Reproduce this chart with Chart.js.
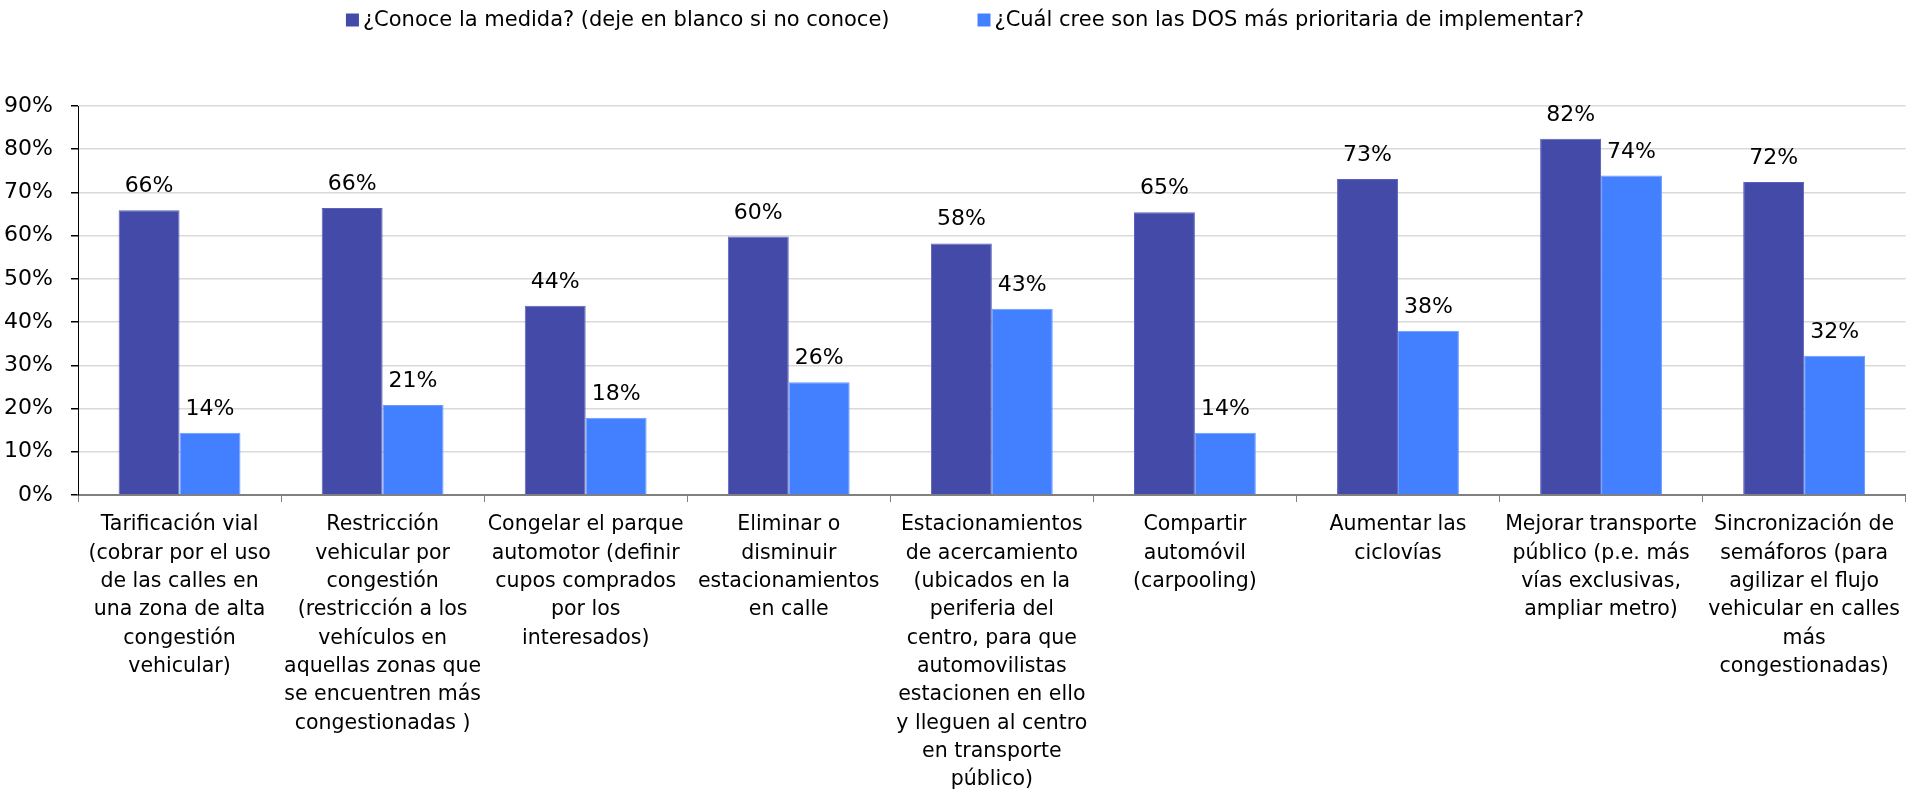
<!DOCTYPE html>
<html>
<head>
<meta charset="utf-8">
<script src="https://cdn.jsdelivr.net/npm/chart.js@4/dist/chart.umd.min.js"></script>
<style>
  html, body { margin: 0; padding: 0; background: #ffffff; }
  #wrap { position: relative; width: 1909px; height: 799px; }
</style>
</head>
<body>
<div id="wrap"><canvas id="c" width="1909" height="799"></canvas></div>
<script>
const categories = [
  ["Tarificación vial", "(cobrar por el uso", "de las calles en", "una zona de alta", "congestión", "vehicular)"],
  ["Restricción", "vehicular por", "congestión", "(restricción a los", "vehículos en", "aquellas zonas que", "se encuentren más", "congestionadas )"],
  ["Congelar el parque", "automotor (definir", "cupos comprados", "por los", "interesados)"],
  ["Eliminar o", "disminuir", "estacionamientos", "en calle"],
  ["Estacionamientos", "de acercamiento", "(ubicados en la", "periferia del", "centro, para que", "automovilistas", "estacionen en ello", "y lleguen al centro", "en transporte", "público)"],
  ["Compartir", "automóvil", "(carpooling)"],
  ["Aumentar las", "ciclovías"],
  ["Mejorar transporte", "público (p.e. más", "vías exclusivas,", "ampliar metro)"],
  ["Sincronización de", "semáforos (para", "agilizar el flujo", "vehicular en calles", "más", "congestionadas)"]
];
const seriesNames = [
  "¿Conoce la medida? (deje en blanco si no conoce)",
  "¿Cuál cree son las DOS más prioritaria de implementar?"
];
const conoce = [65.9, 66.4, 43.8, 59.8, 58.2, 65.4, 73.1, 82.4, 72.4];
const prioritaria = [14.4, 20.8, 17.9, 26.1, 43.1, 14.4, 38.0, 73.9, 32.2];
const yTicks = [0, 10, 20, 30, 40, 50, 60, 70, 80, 90];

const FONT = "'DejaVu Sans', Verdana, sans-serif";
const colors = ['#434aa8', '#4280ff'];
const borders = ['#5c62bb', '#6b9cff'];

const valueLabels = {
  id: 'valueLabels',
  afterDatasetsDraw(chart) {
    const ctx = chart.ctx;
    ctx.save();
    ctx.font = '22px ' + FONT;
    ctx.fillStyle = '#000';
    ctx.textAlign = 'center';
    ctx.textBaseline = 'alphabetic';
    chart.data.datasets.forEach((ds, di) => {
      const meta = chart.getDatasetMeta(di);
      meta.data.forEach((el, i) => {
        ctx.fillText(Math.round(ds.data[i]) + '%', el.x, el.y - 18);
      });
    });
    ctx.restore();
  }
};

const customLegend = {
  id: 'customLegend',
  afterDraw(chart) {
    const ctx = chart.ctx;
    ctx.save();
    ctx.font = '21px ' + FONT;
    const box = 13, gapText = 4, gapItems = 88;
    const items = chart.data.datasets.map((ds, i) => ({
      text: ds.label, color: colors[i], w: box + gapText + ctx.measureText(ds.label).width
    }));
    const total = items.reduce((s, it) => s + it.w, 0) + gapItems * (items.length - 1);
    let x = 965 - total / 2;
    const cy = 20;
    items.forEach(it => {
      ctx.fillStyle = it.color;
      ctx.fillRect(x, cy - box / 2, box, box);
      ctx.fillStyle = '#000';
      ctx.textAlign = 'left';
      ctx.textBaseline = 'middle';
      ctx.fillText(it.text, x + box + gapText, cy + 1);
      x += it.w + gapItems;
    });
    ctx.restore();
  }
};

new Chart(document.getElementById('c'), {
  type: 'bar',
  data: {
    labels: categories,
    datasets: [
      { label: seriesNames[0], data: conoce, backgroundColor: colors[0], borderColor: borders[0], borderWidth: 1 },
      { label: seriesNames[1], data: prioritaria, backgroundColor: colors[1], borderColor: borders[1], borderWidth: 1 }
    ]
  },
  options: {
    responsive: false,
    animation: false,
    devicePixelRatio: 1,
    categoryPercentage: 0.6,
    barPercentage: 1.0,
    layout: { padding: { top: 106, left: 0, right: 2, bottom: 0 } },
    plugins: {
      legend: { display: false },
      tooltip: { enabled: false }
    },
    scales: {
      x: {
        grid: { display: true, offset: true, drawOnChartArea: false, drawTicks: true, tickLength: 7, color: '#808080', tickColor: '#808080', lineWidth: 1 },
        border: { display: true, color: '#808080', width: 2 },
        ticks: {
          autoSkip: false, maxRotation: 0, minRotation: 0, padding: 9,
          color: '#000',
          font: { family: FONT, size: 20.5, lineHeight: 1.38 }
        },
        afterFit(scale) { scale.height = 304; }
      },
      y: {
        min: 0, max: 90,
        afterBuildTicks(scale) { scale.ticks = yTicks.map(v => ({ value: v })); },
        grid: { color: '#d9d9d9', lineWidth: 1.5, drawTicks: true, tickLength: 7, tickColor: '#000' },
        border: { display: true, color: '#000', width: 1 },
        ticks: {
          padding: 18, color: '#000',
          font: { family: FONT, size: 22 },
          callback: v => v + '%'
        },
        afterFit(scale) { scale.width = 78; }
      }
    }
  },
  plugins: [valueLabels, customLegend]
});
</script>
</body>
</html>
